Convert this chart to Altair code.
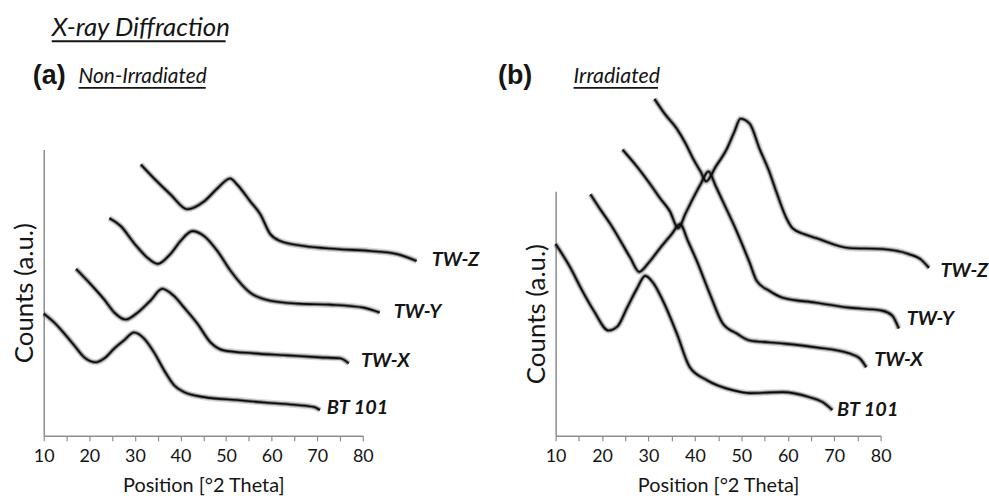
import altair as alt
import pandas as pd

# ---------------- Panel (a) Non-Irradiated ----------------
a_bt101_x = [10, 12.3, 14.5, 16.7, 18.9, 21.4, 23.3, 25.5, 27.6, 29.8, 32, 34.2, 36.4, 38.6, 40.8, 45.2, 52.4, 59.7, 65.6, 69.3, 70.6]
a_bt101_y = [123, 114, 103, 91, 79, 74, 78, 88, 96, 104, 98, 84, 66, 51, 44, 39, 36, 33, 31, 29, 26]
a_twx_x = [17.1, 19.6, 23.3, 25.5, 28, 30.6, 33.4, 36, 38.5, 40.8, 43.7, 46.6, 49.5, 56.1, 63.4, 70.6, 75, 76.9]
a_twx_y = [168, 156, 137, 124, 117, 124, 136, 148, 141, 129, 113, 94, 86, 83, 81, 79, 78, 73]
a_twy_x = [24.4, 26.9, 29.8, 32.8, 35, 37.8, 40, 42.6, 45.2, 48.1, 51, 55.3, 59.7, 66, 72.8, 80.2, 83.7]
a_twy_y = [219, 211, 194, 179, 173, 183, 196, 206, 201, 186, 166, 144, 136, 133, 132, 129, 124]
a_twz_x = [31.3, 34.2, 37.8, 41.5, 45.2, 48.1, 50.9, 52.4, 55.3, 57.5, 59.7, 61.9, 67.1, 74.3, 81.6, 87.4, 91.8]
a_twz_y = [273, 259, 243, 228, 236, 249, 259, 253, 236, 223, 203, 196, 191, 188, 186, 183, 176]
a_label_x = [72.1, 79.6, 86.8, 95.1]
a_label_y = [28, 75, 125, 177]

# ---------------- Panel (b) Irradiated ----------------
b_bt101_x = [10, 13.2, 15.4, 18.2, 21.4, 23.3, 25.4, 27.5, 29.3, 31, 33.1, 36.1, 38.9, 42.6, 48.1, 51.8, 58.9, 64.6, 67.5, 69.6]
b_bt101_y = [193, 169, 149, 126, 106, 110, 129, 148, 161, 154, 136, 103, 69, 56, 46, 43, 44, 39, 34, 26]
b_twx_x = [17.5, 19.6, 21.8, 24, 26.1, 28, 30, 32.5, 35, 36.8, 38.5, 40.4, 43.2, 46, 49, 51.8, 58.9, 66.1, 73.2, 75.5, 76.9]
b_twx_y = [243, 228, 213, 196, 179, 165, 174, 189, 203, 213, 196, 176, 143, 113, 103, 96, 93, 89, 83, 78, 69]
b_twy_x = [24.4, 27.5, 30.4, 32.5, 34.6, 36.4, 38, 39.6, 41.2, 42.9, 44.5, 46, 48.5, 51.8, 53.3, 56, 58.9, 66.1, 73.2, 80.3, 82.5, 83.9]
b_twy_y = [288, 271, 253, 239, 226, 209, 224, 239, 253, 266, 251, 236, 211, 174, 156, 146, 139, 134, 129, 126, 121, 108]
b_twz_x = [31.3, 33.5, 36.1, 38, 39.6, 41.2, 42.4, 44.5, 46.9, 48.5, 49.8, 51.8, 53.9, 56, 57.5, 59.7, 61, 63.5, 66.1, 73.2, 80.3, 86, 88.5, 90.4]
b_twz_y = [339, 324, 309, 294, 279, 266, 256, 271, 289, 306, 319, 314, 289, 266, 246, 219, 209, 203, 199, 189, 188, 183, 178, 169]
b_label_x = [70.6, 78.6, 85.6, 92.9]
b_label_y = [26, 76, 118, 166]

names = ["BT 101", "TW-X", "TW-Y", "TW-Z"]
x_ticks = list(range(10, 81, 5))

TEXT = "#151515"
AXIS = "#8c8c8c"
PLOT_H = 339


def series_df(xs_list, ys_list):
    rows = []
    for n, xs, ys in zip(names, xs_list, ys_list):
        for i, (x, y) in enumerate(zip(xs, ys)):
            rows.append({"series": n, "x": x, "y": y, "i": i})
    return pd.DataFrame(rows)


def text_layer(txt, px, py, font, size, style="normal", weight="normal"):
    return alt.Chart(pd.DataFrame({"t": [txt]})).mark_text(
        align="left", baseline="alphabetic", font=font, fontSize=size,
        fontStyle=style, fontWeight=weight, color=TEXT
    ).encode(text="t:N", x=alt.value(px), y=alt.value(py))


def underline(x1, x2, py):
    return alt.Chart(pd.DataFrame({"t": [0]})).mark_rule(
        color=TEXT, strokeWidth=1.8
    ).encode(x=alt.value(x1), x2=alt.value(x2), y=alt.value(py))


def panel(df, lab_df, ydom, yrange, width, extras):
    xs = alt.Scale(domain=[10, 80], nice=False, zero=False)
    ys = alt.Scale(domain=ydom, range=yrange, nice=False, zero=False)
    xax = alt.Axis(
        values=x_ticks, labelExpr="datum.value % 10 == 0 ? datum.label : ''",
        labelFlush=False, labelOverlap=False, grid=False,
        tickSize=5, tickColor=AXIS, tickWidth=1.2, domainColor=AXIS, domainWidth=1.5,
        labelFont="Lato", labelFontSize=18, labelColor=TEXT, labelPadding=7,
        title="Position [°2 Theta]", titleFont="Lato", titleFontSize=20,
        titleFontWeight="normal", titleColor=TEXT, titlePadding=10,
    )
    yax = alt.Axis(
        labels=False, ticks=False, grid=False, domainColor=AXIS, domainWidth=1.5,
        title="Counts (a.u.)", titleFont="Lato", titleFontSize=26,
        titleFontWeight="normal", titleColor=TEXT, titlePadding=6,
    )
    enc = dict(
        x=alt.X("x:Q", scale=xs, axis=xax),
        y=alt.Y("y:Q", scale=ys, axis=yax),
    )
    base = alt.Chart(df).encode(detail="series:N", order="i:Q", **enc)
    halo = base.mark_line(color="#555555", strokeWidth=6.5, opacity=0.22,
                          interpolate="monotone", strokeJoin="round")
    mid = base.mark_line(color="#222222", strokeWidth=3.6, opacity=0.55,
                         interpolate="monotone", strokeJoin="round")
    core = base.mark_line(color="#0a0a0a", strokeWidth=1.6,
                          interpolate="monotone", strokeJoin="round")
    labels = alt.Chart(lab_df).mark_text(
        align="left", baseline="middle", font="Lato", fontSize=20,
        fontStyle="italic", fontWeight="bold", color=TEXT
    ).encode(text="series:N", **enc)
    return alt.layer(halo, mid, core, labels, *extras).properties(width=width, height=PLOT_H)


df_a = series_df([a_bt101_x, a_twx_x, a_twy_x, a_twz_x], [a_bt101_y, a_twx_y, a_twy_y, a_twz_y])
df_b = series_df([b_bt101_x, b_twx_x, b_twy_x, b_twz_x], [b_bt101_y, b_twx_y, b_twy_y, b_twz_y])
lab_a = pd.DataFrame({"series": names, "x": a_label_x, "y": a_label_y})
lab_b = pd.DataFrame({"series": names, "x": b_label_x, "y": b_label_y})

extras_a = [
    text_layer("X-ray Diffraction", 8, -63, "Lato", 26, style="italic"),
    underline(8, 183, -58),
    text_layer("(a)", -11, -15, "Liberation Sans", 27, weight="bold"),
    text_layer("Non-Irradiated", 35, -16, "Lato", 21, style="italic"),
    underline(35, 163, -11),
]
extras_b = [
    text_layer("(b)", -58, -15, "Liberation Sans", 27, weight="bold"),
    text_layer("Irradiated", 18, -16, "Lato", 21.5, style="italic"),
    underline(18, 103, -11),
]

pa = panel(df_a, lab_a, [0, 288], [PLOT_H, PLOT_H - 288], 321, extras_a)
pb = panel(df_b, lab_b, [0, 246], [PLOT_H, PLOT_H - 246], 327, extras_b)

chart = alt.hconcat(pa, pb, spacing=18).properties(
    padding={"left": 12, "top": 14, "right": 0, "bottom": 0},
    background="white",
).configure_view(stroke=None)

chart.save("out.html", embed_options={"renderer": "svg", "actions": False})
